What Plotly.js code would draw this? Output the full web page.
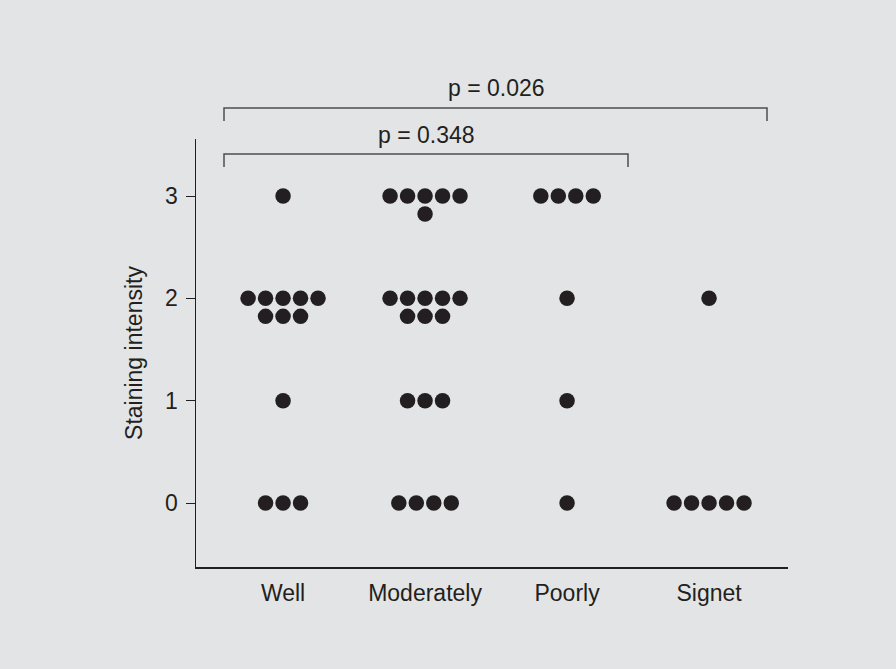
<!DOCTYPE html>
<html>
<head>
<meta charset="utf-8">
<script src="https://cdn.plot.ly/plotly-3.0.1.min.js"></script>
<style>html,body{margin:0;padding:0;background:#e3e4e5;}#chart{width:896px;height:669px;}</style>
</head>
<body>
<div id="chart"></div>
<script>
// ---- data ----
const categories = ['Well', 'Moderately', 'Poorly', 'Signet'];
const scores = [0, 1, 2, 3];
// number of cases at each staining intensity (0,1,2,3)
const countsWell = [3, 1, 8, 1];
const countsModerately = [4, 3, 8, 6];
const countsPoorly = [1, 1, 1, 4];
const countsSignet = [5, 0, 1, 0];
const yTickLabels = ['0', '1', '2', '3'];
const pLabels = ['p = 0.348', 'p = 0.026'];

// ---- dot-plot layout (stacking, 5 per row) ----
const allCounts = [countsWell, countsModerately, countsPoorly, countsSignet];
const perRow = 5, dx = 0.1232, dy = 0.176;
const xs = [], ys = [];
allCounts.forEach((counts, ci) => {
  counts.forEach((n, si) => {
    let left = n, r = 0;
    while (left > 0) {
      const m = Math.min(perRow, left);
      for (let k = 0; k < m; k++) {
        xs.push(ci + (k - (m - 1) / 2) * dx);
        ys.push(scores[si] - r * dy);
      }
      left -= m; r++;
    }
  });
});

const ink = '#231f20';
const font = {family: '"Liberation Sans", Arial, sans-serif', size: 23, color: ink};

const trace = {
  x: xs, y: ys, type: 'scatter', mode: 'markers',
  marker: {size: 15.5, color: ink},
  hoverinfo: 'skip', cliponaxis: false
};

const L = 196, R = 788, T = 139, B = 567;
const px = v => (v - L) / (R - L);
const py = v => (B - v) / (B - T);
function bracket(x0, x1, yt, yb) {
  return {type: 'path', xref: 'paper', yref: 'paper',
    path: `M ${px(x0)},${py(yb)} L ${px(x0)},${py(yt)} L ${px(x1)},${py(yt)} L ${px(x1)},${py(yb)}`,
    line: {color: '#4d4d4f', width: 1.5}};
}

const layout = {
  width: 896, height: 669,
  margin: {l: L, r: 896 - R, t: T, b: 669 - B},
  paper_bgcolor: '#e3e4e5', plot_bgcolor: '#e3e4e5',
  font: font,
  showlegend: false,
  xaxis: {
    range: [-0.613, 3.556],
    tickvals: [0, 1, 2, 3], ticktext: categories,
    showline: true, linecolor: ink, linewidth: 1.5,
    ticks: '', showgrid: false, zeroline: false,
    ticklabelstandoff: 5,
    tickfont: font
  },
  yaxis: {
    range: [-0.625, 3.557],
    tickvals: scores, ticktext: yTickLabels,
    showline: true, linecolor: ink, linewidth: 1.5,
    ticks: 'outside', ticklen: 9, tickwidth: 1, tickcolor: ink,
    showgrid: false, zeroline: false,
    ticklabelstandoff: 3,
    tickfont: font,
    title: {text: 'Staining intensity', font: font, standoff: 16}
  },
  shapes: [
    bracket(224, 628, 154, 167),
    bracket(224, 767, 108, 121)
  ],
  annotations: [
    {xref: 'paper', yref: 'paper', x: px(426), y: py(135), text: pLabels[0], showarrow: false, font: font, xanchor: 'center', yanchor: 'middle'},
    {xref: 'paper', yref: 'paper', x: px(496), y: py(88), text: pLabels[1], showarrow: false, font: font, xanchor: 'center', yanchor: 'middle'}
  ]
};

Plotly.newPlot('chart', [trace], layout, {displayModeBar: false, staticPlot: true});
</script>
</body>
</html>
